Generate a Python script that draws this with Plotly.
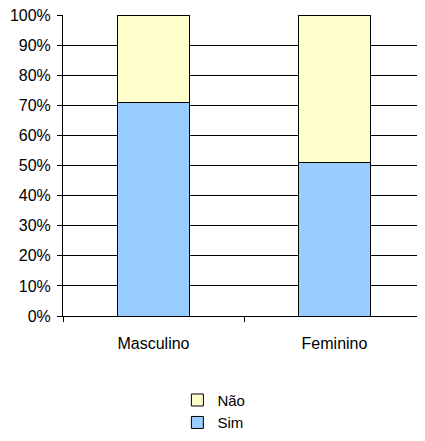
import plotly.graph_objects as go

categories = ["Masculino", "Feminino"]
sim = [71, 51]
nao = [29, 49]
y_ticks = list(range(0, 101, 10))

x_pos = list(range(len(categories)))

fig = go.Figure()
fig.add_trace(
    go.Bar(
        x=x_pos,
        y=sim,
        name="Sim",
        width=0.4,
        marker=dict(color="#99CCFF", line=dict(color="black", width=1)),
    )
)
fig.add_trace(
    go.Bar(
        x=x_pos,
        y=nao,
        name="Não",
        width=0.4,
        marker=dict(color="#FFFFCC", line=dict(color="black", width=1)),
    )
)

# the page body has a default 8px margin, so margins are offset by it
fig.update_layout(
    barmode="stack",
    width=417,
    height=441,
    margin=dict(l=55, r=0, t=7, b=133),
    plot_bgcolor="white",
    paper_bgcolor="white",
    font=dict(family="Liberation Sans, Arial", size=16, color="black"),
    xaxis=dict(
        range=[-0.5, 1.5],
        tickvals=x_pos,
        ticktext=categories,
        ticks="",
        showline=True,
        linecolor="black",
        linewidth=1,
        showgrid=False,
        zeroline=False,
        automargin=False,
        ticklabelstandoff=13,
        minor=dict(tickvals=[-0.5, 0.5, 1.5], ticks="outside", ticklen=5, tickcolor="black", showgrid=False),
    ),
    yaxis=dict(
        range=[0, 100],
        tickvals=y_ticks,
        ticktext=[f"{v}%" for v in y_ticks],
        ticks="outside",
        ticklen=5,
        tickcolor="black",
        showline=True,
        linecolor="black",
        linewidth=1,
        showgrid=True,
        gridcolor="black",
        gridwidth=1,
        zeroline=False,
        automargin=False,
        ticklabelstandoff=3,
        ticklabeloverflow="allow",
    ),
    legend=dict(
        traceorder="reversed",
        x=0.316,
        xanchor="left",
        y=-0.225,
        yanchor="top",
        font=dict(size=15),
        itemwidth=30,
        tracegroupgap=0,
    ),
)

fig.write_html("out.html")
